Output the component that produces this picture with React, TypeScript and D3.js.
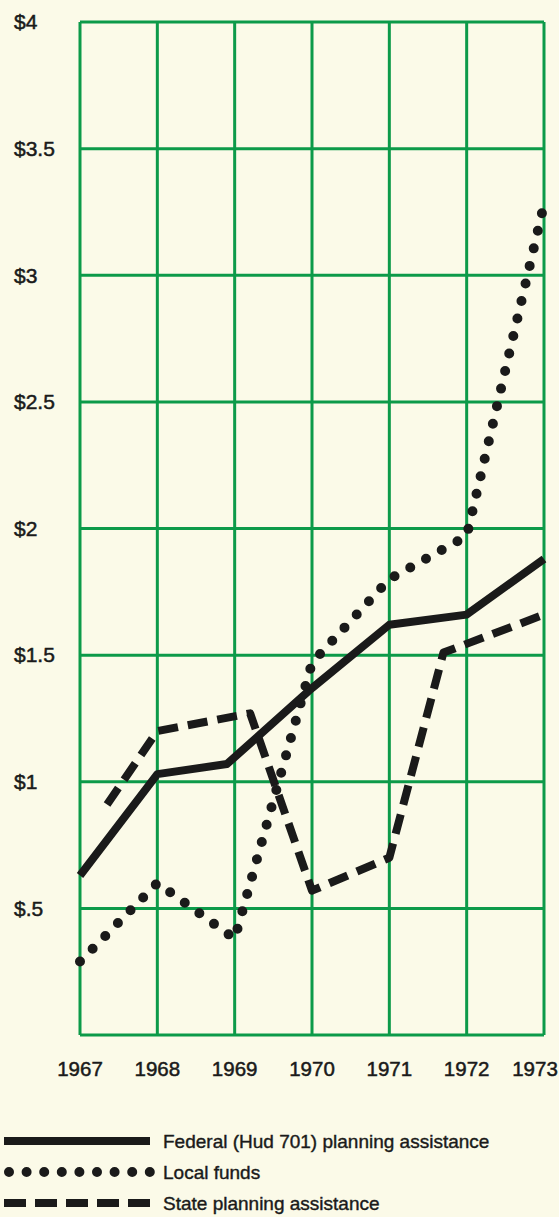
import React from "react";
import * as d3 from "d3";

// values in millions of dollars
const years = [1967, 1968, 1969, 1970, 1971, 1972, 1973];
const yTicks = [0.5, 1, 1.5, 2, 2.5, 3, 3.5, 4];
const yTickLabels = ["$.5", "$1", "$1.5", "$2", "$2.5", "$3", "$3.5", "$4"];

const federalYears = [1967, 1968, 1968.9, 1970, 1971, 1972, 1973];
const federalValues = [0.63, 1.03, 1.07, 1.37, 1.62, 1.66, 1.88];

const localYears = [1967, 1968, 1969, 1970, 1971, 1972, 1973];
const localValues = [0.29, 0.6, 0.38, 1.47, 1.8, 1.97, 3.28];

const stateYears = [1967.35, 1968, 1969.2, 1970, 1971, 1971.7, 1973];
const stateValues = [0.91, 1.2, 1.27, 0.57, 0.7, 1.51, 1.66];

const legendLabels = [
  "Federal (Hud 701) planning assistance",
  "Local funds",
  "State planning assistance",
];

const W = 559;
const H = 1217;
const green = "#0c9a49";
const ink = "#1a1a1a";
const font = "'Liberation Sans', Arial, sans-serif";

export default function App() {
  const x = d3.scaleLinear().domain([1967, 1973]).range([80, 544]);
  const y = d3.scaleLinear().domain([0, 4]).range([1035, 22]);

  const line = d3
    .line<[number, number]>()
    .x((d) => x(d[0]))
    .y((d) => y(d[1]));

  const federal = line(federalYears.map((yr, i) => [yr, federalValues[i]]));
  const local = line(localYears.map((yr, i) => [yr, localValues[i]]));
  const state = line(stateYears.map((yr, i) => [yr, stateValues[i]]));

  // legend swatches: solid, dots, dashes
  const swatches = [
    { x1: 4, dash: undefined, width: 8, cap: "butt" },
    { x1: 9, dash: "0 17.6", width: 10, cap: "round" },
    { x1: 4, dash: "22 9", width: 8, cap: "butt" },
  ];

  return (
    <svg
      width={W}
      height={H}
      style={{ position: "absolute", left: 0, top: 0 }}
    >
      <rect width={W} height={H} fill="#fbfae8" />

      {/* grid */}
      <g stroke={green} strokeWidth={3} fill="none">
        {years.map((yr) => (
          <line key={yr} x1={x(yr)} x2={x(yr)} y1={y(4)} y2={y(0)} />
        ))}
        {[0, ...yTicks].map((v) => (
          <line key={v} x1={x(1967)} x2={x(1973)} y1={y(v)} y2={y(v)} />
        ))}
      </g>

      {/* y labels */}
      <g fontFamily={font} fontSize={21} fill={ink} stroke={ink} strokeWidth={0.5}>
        {yTicks.map((v, i) => (
          <text key={v} x={14} y={y(v)} dy="0.35em">
            {yTickLabels[i]}
          </text>
        ))}
      </g>

      {/* x labels */}
      <g
        fontFamily={font}
        fontSize={20.5}
        fill={ink}
        stroke={ink}
        strokeWidth={0.5}
        textAnchor="middle"
      >
        {years.map((yr) => (
          <text key={yr} x={Math.min(x(yr), 535)} y={1076}>
            {yr}
          </text>
        ))}
      </g>

      {/* series */}
      <g fill="none" stroke={ink} strokeLinejoin="round">
        <path d={state ?? ""} strokeWidth={8} strokeDasharray="20 10" />
        <path d={federal ?? ""} strokeWidth={8} />
        <path
          d={local ?? ""}
          strokeWidth={10}
          strokeDasharray="0 18"
          strokeLinecap="round"
        />
      </g>

      {/* legend */}
      <g fontFamily={font} fontSize={19} fill={ink} stroke={ink} strokeWidth={0.4}>
        {legendLabels.map((label, i) => {
          const ly = 1141 + i * 31;
          const s = swatches[i];
          return (
            <g key={label}>
              <line
                x1={s.x1}
                x2={150}
                y1={ly}
                y2={ly}
                stroke={ink}
                strokeWidth={s.width}
                strokeDasharray={s.dash}
                strokeLinecap={s.cap as any}
              />
              <text x={163} y={ly} dy="0.35em">
                {label}
              </text>
            </g>
          );
        })}
      </g>
    </svg>
  );
}
